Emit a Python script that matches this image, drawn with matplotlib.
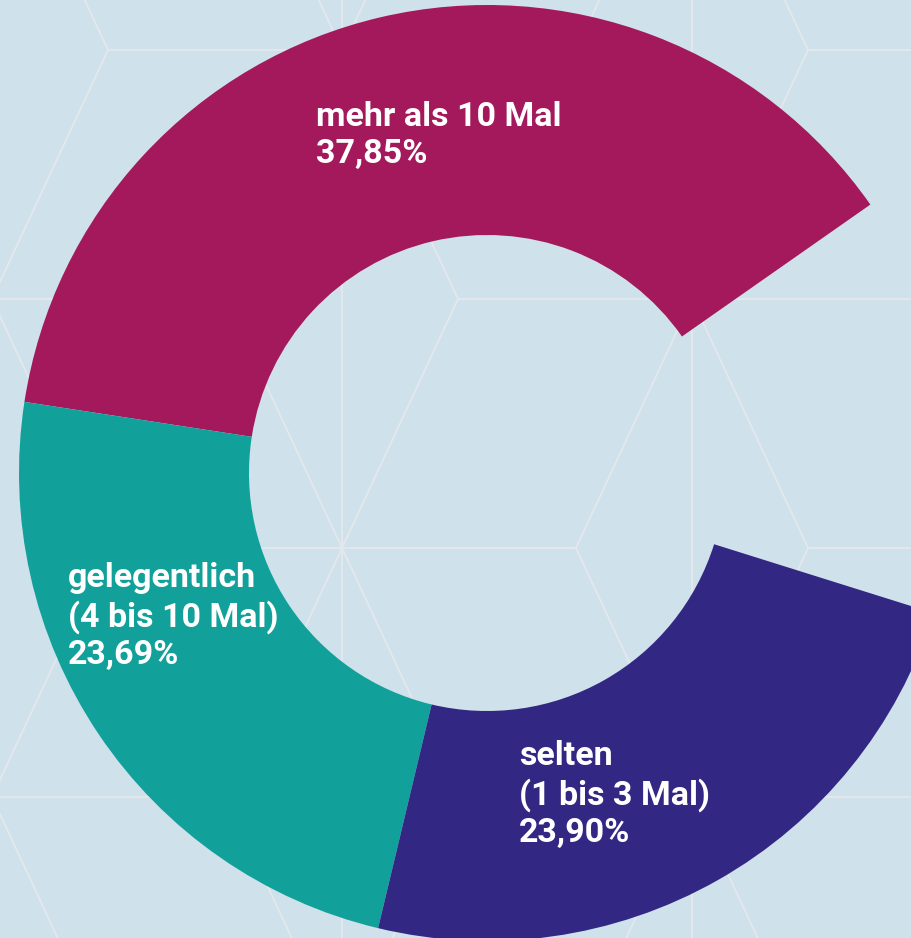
import matplotlib
matplotlib.use("Agg")
import matplotlib.pyplot as plt

# ---- data ----
categories = ["mehr als 10 Mal", "gelegentlich\n(4 bis 10 Mal)", "selten\n(1 bis 3 Mal)"]
values = [37.85, 23.69, 23.90]
colors = ["#A3195B", "#12A19A", "#322783"]

# ---- style / layout ----
W, H = 912, 938
BG = "#CFE1EA"
LINE = "#E4E8EC"
center = (487, H - 473)
r_out, r_in = 468, 238
# anchor = left edge, baseline of the last line (image pixels from top)
label_pos = [(316, H - 163), (68, H - 664), (519, H - 842)]

fig = plt.figure(figsize=(W / 100, H / 100), dpi=100, facecolor=BG)
ax = fig.add_axes([0, 0, 1, 1])
ax.set_facecolor(BG)

# background pattern (diamonds, vertical and horizontal lines)
hw, hh, colsp, rowsp, x0, y0 = 116, 249, 350, 249, -8, 50
lkw = dict(color=LINE, lw=1.3, zorder=0, solid_capstyle="butt")
for i in range(-1, 5):
    cx = x0 + colsp * i
    ax.plot([cx, cx], [-50, H + 50], **lkw)
    for m in range(-2, 7):
        if (m - i) % 2:
            continue
        cy = y0 + rowsp * m
        xs = [cx - hw, cx, cx + hw, cx, cx - hw]
        ys = [cy, cy - hh, cy, cy + hh, cy]
        ax.plot(xs, [H - v for v in ys], **lkw)
        ax.plot([cx + hw, cx + 2 * colsp - hw], [H - cy, H - cy], **lkw)

gap = 100 - sum(values)
wedges, _ = ax.pie(values + [gap], colors=colors + ["none"], startangle=35,
                   counterclock=True, radius=r_out, center=center,
                   wedgeprops=dict(width=r_out - r_in, linewidth=0))
for w in wedges:
    w.set_zorder(2)

for cat, v, (x, y) in zip(categories, values, label_pos):
    txt = f"{cat}\n{v:.2f}".replace(".", ",") + "%"
    ax.text(x, y, txt, color="white", fontsize=24.5, fontweight="bold",
            family="Roboto", ha="left", va="baseline", linespacing=1.22,
            zorder=3)

ax.set_xlim(0, W)
ax.set_ylim(0, H)
ax.set_aspect("equal")
ax.axis("off")
fig.savefig("out.png", dpi=100, facecolor=BG)
